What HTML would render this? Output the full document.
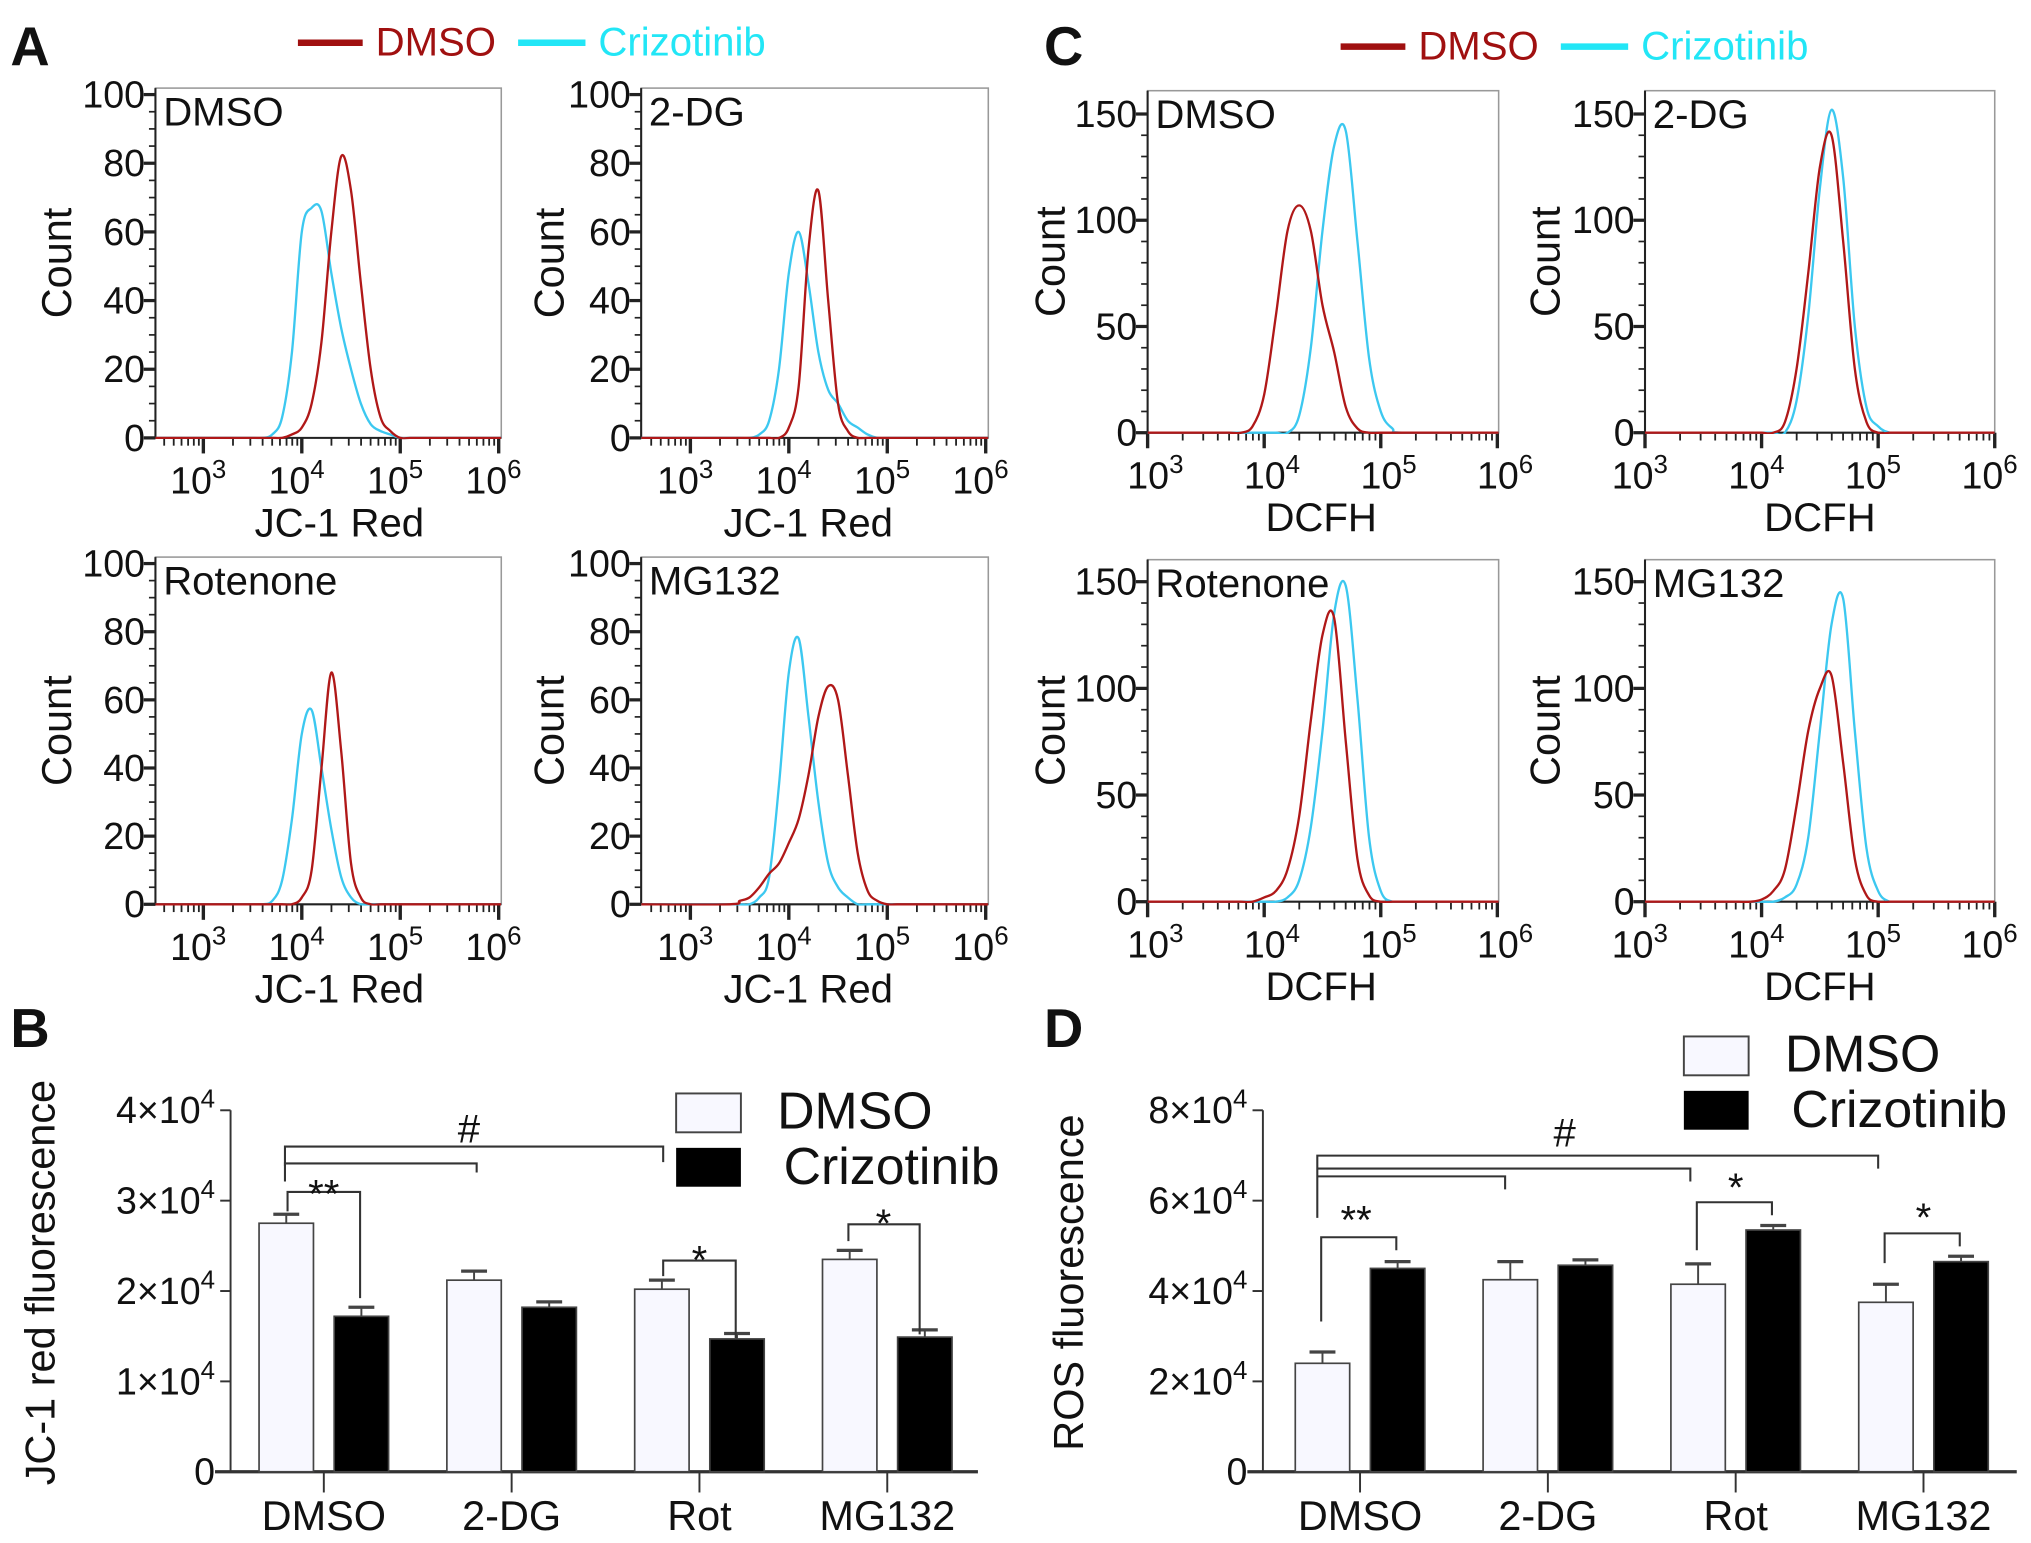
<!DOCTYPE html>
<html><head><meta charset="utf-8"><style>
html,body{margin:0;padding:0;background:#fff;}
svg{display:block;font-family:"Liberation Sans",Arial,sans-serif;}
</style></head><body>
<svg id="fig" width="2031" height="1543" viewBox="0 0 1568 1191" preserveAspectRatio="none" xmlns="http://www.w3.org/2000/svg"></svg>
<script>
// ---------- histogram data (shared log10 grid) ----------
const logGrid = [3.4,3.5,3.6,3.7,3.8,3.9,4.0,4.1,4.2,4.3,4.4,4.5,4.6,4.7,4.8,4.9,5.0,5.1,5.2];
const A_DMSO_red = [0,0,0,0,0,1,3,10,28,60,82,72,45,20,6,2,0,0,0];
const A_DMSO_cy  = [0,0,0,1,6,25,60,67,66,48,32,20,10,4,2,1,0,0,0];
const A_2DG_red  = [0,0,0,0,0,0,3,15,55,72,40,10,2,0,0,0,0,0,0];
const A_2DG_cy   = [0,0,0,1,5,20,48,60,45,25,14,10,5,3,1,0,0,0,0];
const A_Rot_red  = [0,0,0,0,0,0,2,10,40,68,45,12,2,0,0,0,0,0,0];
const A_Rot_cy   = [0,0,0,1,7,25,50,57,40,22,8,2,0,0,0,0,0,0,0];
const A_MG_red   = [0,1,2,5,9,12,18,25,38,55,64,60,38,15,4,1,0,0,0];
const A_MG_cy    = [0,0,0,2,8,35,68,78,55,30,12,5,2,0,0,0,0,0,0];
const C_DMSO_red = [0,0,0,0,0,3,18,55,95,107,95,60,38,12,2,0,0,0,0];
const C_DMSO_cy  = [0,0,0,0,0,0,0,0,0,8,40,95,135,142,90,35,10,2,0];
const C_2DG_red  = [0,0,0,0,0,0,0,0,5,30,75,125,140,90,30,5,0,0,0];
const C_2DG_cy   = [0,0,0,0,0,0,0,0,0,15,55,115,152,120,50,12,3,0,0];
const C_Rot_red  = [0,0,0,0,0,0,2,5,15,40,85,125,133,75,20,3,0,0,0];
const C_Rot_cy   = [0,0,0,0,0,0,0,0,2,10,35,80,135,148,95,30,5,0,0];
const C_MG_red   = [0,0,0,0,0,0,1,5,15,45,80,100,106,65,20,3,0,0,0];
const C_MG_cy    = [0,0,0,0,0,0,0,0,2,8,30,80,130,142,80,25,5,0,0];
const A_yTicks = [0,20,40,60,80,100];
const C_yTicks = [0,50,100,150];
const xDecades = [3,4,5,6];

// ---------- bar data ----------
const barGroups = ["DMSO","2-DG","Rot","MG132"];
const B_dmso = [2.75,2.12,2.02,2.35];
const B_dmsoErr = [0.1,0.1,0.1,0.1];
const B_criz = [1.72,1.82,1.47,1.49];
const B_crizErr = [0.1,0.06,0.06,0.08];
const B_yTicks = [0,1,2,3,4];
const D_dmso = [2.4,4.25,4.15,3.75];
const D_dmsoErr = [0.25,0.4,0.45,0.4];
const D_criz = [4.5,4.57,5.35,4.65];
const D_crizErr = [0.15,0.12,0.1,0.12];
const D_yTicks = [0,2,4,6,8];

const NS="http://www.w3.org/2000/svg";
const svg=document.getElementById('fig');
function el(tag,attrs,parent,text){const e=document.createElementNS(NS,tag);for(const k in attrs)e.setAttribute(k,attrs[k]);if(text!==undefined)e.textContent=text;(parent||svg).appendChild(e);return e;}
const RED="#b01818", CYAN="#3cc8f0";

function smoothPath(pts){
  let d=`M${pts[0][0]},${pts[0][1]}`;
  for(let i=0;i<pts.length-1;i++){
    const p0=pts[Math.max(0,i-1)],p1=pts[i],p2=pts[i+1],p3=pts[Math.min(pts.length-1,i+2)];
    const c1x=p1[0]+(p2[0]-p0[0])/6,c1y=p1[1]+(p2[1]-p0[1])/6;
    const c2x=p2[0]-(p3[0]-p1[0])/6,c2y=p2[1]-(p3[1]-p1[1])/6;
    d+=` C${c1x},${c1y} ${c2x},${c2y} ${p2[0]},${p2[1]}`;
  }
  return d;
}

let clipId=0;
function histPanel(c){
  const g=el('g',{});
  
  
  const xS=l=>c.d3+(l-3)*c.dec;
  const yS=v=>c.y0-(v/c.ymax)*(c.y0-c.ytop);
  const box=el('rect',{x:c.bx0,y:c.btop,width:c.bx1-c.bx0,height:c.y0-c.btop,fill:'none',stroke:'#999','stroke-width':1.2},g);
  
  
  el('line',{x1:c.bx0,y1:c.btop,x2:c.bx0,y2:c.y0,stroke:'#222','stroke-width':1.6},g);
  const minorStep=c.minor;
  for(let v=0;v<=c.ymax+0.01;v+=minorStep){
    const y=yS(v);const major=c.yTicks.includes(v);
    el('line',{x1:c.bx0-(major?9:5),y1:y,x2:c.bx0,y2:y,stroke:'#222','stroke-width':major?2.5:1.3},g);
  }
  c.yTicks.forEach(v=>{
    const t=el('text',{x:c.bx0-8,y:yS(v)+10,'font-size':29,'text-anchor':'end',fill:'#111'},g,String(v));
    
    
  });
  el('line',{x1:c.bx0,y1:c.y0,x2:c.bx1,y2:c.y0,stroke:'#222','stroke-width':1.6},g);
  for(let dcd=2;dcd<=6;dcd++){
    for(let m=1;m<=9;m++){
      const l=dcd+Math.log10(m);const x=xS(l);
      if(x<c.bx0-0.5||x>c.bx1+0.5)continue;
      const major=m===1;
      el('line',{x1:x,y1:c.y0,x2:x,y2:c.y0+(major?12:6),stroke:'#222','stroke-width':major?2.6:1.4},g);
    }
  }
  xDecades.forEach(dd=>{
    const x=xS(dd);
    const t=el('text',{x:x+c.lblOff,y:c.y0+43,'font-size':29,'text-anchor':'middle',fill:'#111'},g);
    
    
    el('tspan',{},t,'10');
    el('tspan',{dy:-12,'font-size':20},t,String(dd));
  });
  const xl=el('text',{x:c.xlx,y:c.y0+76,'font-size':31,'text-anchor':'middle',fill:'#111'},g,c.xlabel);
  
  
  const yl=el('text',{x:0,y:0,'font-size':32,'text-anchor':'middle',fill:'#111',transform:`translate(${c.ylx},${(c.btop+c.y0)/2}) rotate(-90)`},g,'Count');
  
  
  const lb=el('text',{x:c.bx0+6,y:c.btop+29,'font-size':31,fill:'#111'},g,c.label);
  
  
  const id='clip'+(clipId++);
  const cp=el('clipPath',{id:id},g);
  el('rect',{x:c.bx0,y:c.btop,width:c.bx1-c.bx0,height:c.y0-c.btop+1},cp);
  [[c.cy,CYAN,'crizotinib-histogram'],[c.red,RED,'dmso-histogram']].forEach(([arr,col,nm])=>{
    const pts=[[c.bx0,c.y0]];
    logGrid.forEach((l,i)=>pts.push([xS(l),yS(arr[i])]));
    pts.push([c.bx1,c.y0]);
    const p=el('path',{d:smoothPath(pts),fill:'none',stroke:col,'stroke-width':1.8,'clip-path':`url(#${id})`},g);
    
    
  });
}

const AL={bx0:120,bx1:387,d3:157,dec:76,ymax:100,minor:5,yTicks:A_yTicks,xlabel:'JC-1 Red',xlx:262,ylx:55,lblOff:-4};
const AR={bx0:495,bx1:763,d3:533,dec:76,ymax:100,minor:5,yTicks:A_yTicks,xlabel:'JC-1 Red',xlx:624,ylx:435,lblOff:-4};
histPanel(Object.assign({},AL,{name:'hist-a-dmso',btop:68,ytop:73,y0:338,label:'DMSO',red:A_DMSO_red,cy:A_DMSO_cy}));
histPanel(Object.assign({},AR,{name:'hist-a-2dg',btop:68,ytop:73,y0:338,label:'2-DG',red:A_2DG_red,cy:A_2DG_cy}));
histPanel(Object.assign({},AL,{name:'hist-a-rotenone',btop:430,ytop:435,y0:698,label:'Rotenone',red:A_Rot_red,cy:A_Rot_cy}));
histPanel(Object.assign({},AR,{name:'hist-a-mg132',btop:430,ytop:435,y0:698,label:'MG132',red:A_MG_red,cy:A_MG_cy}));
const CL={bx0:886,bx1:1157,d3:886,dec:90,ymax:150,minor:10,yTicks:C_yTicks,xlabel:'DCFH',xlx:1020,ylx:822,lblOff:6};
const CR={bx0:1270,bx1:1540,d3:1270,dec:90,ymax:150,minor:10,yTicks:C_yTicks,xlabel:'DCFH',xlx:1405,ylx:1204,lblOff:-4};
histPanel(Object.assign({},CL,{name:'hist-c-dmso',btop:70,ytop:88,y0:334,label:'DMSO',red:C_DMSO_red,cy:C_DMSO_cy}));
histPanel(Object.assign({},CR,{name:'hist-c-2dg',btop:70,ytop:88,y0:334,label:'2-DG',red:C_2DG_red,cy:C_2DG_cy}));
histPanel(Object.assign({},CL,{name:'hist-c-rotenone',btop:432,ytop:449,y0:696,label:'Rotenone',red:C_Rot_red,cy:C_Rot_cy}));
histPanel(Object.assign({},CR,{name:'hist-c-mg132',btop:432,ytop:449,y0:696,label:'MG132',red:C_MG_red,cy:C_MG_cy}));

function topLegend(x,y,name){
  const g=el('g',{});
  
  
  el('line',{x1:x,y1:y,x2:x+50,y2:y,stroke:'#a01010','stroke-width':5},g);
  el('text',{x:x+60,y:y+10,'font-size':31,fill:'#a01010'},g,'DMSO');
  el('line',{x1:x+170,y1:y,x2:x+222,y2:y,stroke:'#22e6f6','stroke-width':5},g);
  el('text',{x:x+232,y:y+10,'font-size':31,fill:'#22e6f6'},g,'Crizotinib');
}
topLegend(230,33,'legend-a');
topLegend(1035,36,'legend-c');

[['A',8,50],['C',806,50],['B',8,808],['D',806,808]].forEach(([t,x,y])=>{
  const e=el('text',{x:x,y:y,'font-size':42,'font-weight':'bold',fill:'#111'},svg,t);
  
  
});

function barChart(c){
  const g=el('g',{});
  
  
  const yS=v=>c.y0-(v/c.ymax)*(c.y0-c.ytop);
  el('line',{x1:c.ax,y1:c.ytop,x2:c.ax,y2:c.y0,stroke:'#333','stroke-width':1.5},g);
  el('line',{x1:c.ax-12,y1:c.y0,x2:c.xend,y2:c.y0,stroke:'#333','stroke-width':2.5},g);
  c.yTicks.forEach(v=>{
    const y=yS(v);
    el('line',{x1:c.ax-8,y1:y,x2:c.ax,y2:y,stroke:'#333','stroke-width':1.5},g);
    const t=el('text',{x:c.ax-12,y:y+10,'font-size':29,'text-anchor':'end',fill:'#111'},g);
    
    
    if(v===0){t.textContent='0';}
    else{el('tspan',{},t,v+'×10');el('tspan',{dy:-12,'font-size':20},t,'4');}
  });
  const yl=el('text',{x:0,y:0,'font-size':32,'text-anchor':'middle',fill:'#111',transform:`translate(${c.ylx},${c.yly}) rotate(-90)`},g,c.ylabel);
  
  
  barGroups.forEach((grp,i)=>{
    const cx=c.g0+i*c.gs;
    el('line',{x1:cx,y1:c.y0,x2:cx,y2:c.y0+16,stroke:'#333','stroke-width':1.5},g);
    const t=el('text',{x:cx,y:c.y0+45,'font-size':32,'text-anchor':'middle',fill:'#111'},g,grp);
    
    
    [[c.dmso[i],c.dmsoErr[i],cx-50,'#f8f8ff','dmso-bar'],[c.criz[i],c.crizErr[i],cx+8,'#000','crizotinib-bar']].forEach(([v,e,x,f,nm])=>{
      const r=el('rect',{x:x,y:yS(v),width:42,height:c.y0-yS(v),fill:f,stroke:'#444','stroke-width':1.3},g);
      
      
      const mx=x+21;
      el('line',{x1:mx,y1:yS(v),x2:mx,y2:yS(v+e),stroke:'#444','stroke-width':1.5},g);
      el('line',{x1:mx-10,y1:yS(v+e),x2:mx+10,y2:yS(v+e),stroke:'#444','stroke-width':2.5},g);
    });
  });
  const lg=el('g',{},g);
  
  
  el('rect',{x:c.lx,y:c.ly,width:50,height:30,fill:'#f8f8ff',stroke:'#444','stroke-width':1.5},lg);
  el('text',{x:c.lx+78,y:c.ly+27,'font-size':40,fill:'#111'},lg,'DMSO');
  el('rect',{x:c.lx,y:c.ly+42,width:50,height:30,fill:'#000'},lg);
  el('text',{x:c.lx+83,y:c.ly+70,'font-size':40,fill:'#111'},lg,'Crizotinib');
  const sg=el('g',{},g);
  
  
  c.sig.forEach(s=>{
    el('path',{d:s.d,fill:'none',stroke:'#333','stroke-width':1.6},sg);
    if(s.t)el('text',{x:s.tx,y:s.ty,'font-size':31,'text-anchor':'middle',fill:'#111'},sg,s.t);
  });
}
barChart({name:'bar-chart-b',ax:178,xend:755,y0:1136,ytop:857,ymax:4,yTicks:B_yTicks,ylabel:'JC-1 red fluorescence',ylx:42,yly:990,
  g0:250,gs:145,dmso:B_dmso,dmsoErr:B_dmsoErr,criz:B_criz,crizErr:B_crizErr,lx:522,ly:844,
  sig:[{d:'M220,900 V885 H512 V897',t:'#',tx:362,ty:882},{d:'M220,912 V898 H368 V905'},
       {d:'M222,935 V920 H278 V1002',t:'**',tx:250,ty:932},
       {d:'M512,985 V973 H568 V1033',t:'*',tx:540,ty:983},
       {d:'M655,958 V945 H710 V1030',t:'*',tx:682,ty:955}]});
barChart({name:'bar-chart-d',ax:975,xend:1557,y0:1136,ytop:857,ymax:8,yTicks:D_yTicks,ylabel:'ROS fluorescence',ylx:836,yly:990,
  g0:1050,gs:145,dmso:D_dmso,dmsoErr:D_dmsoErr,criz:D_criz,crizErr:D_crizErr,lx:1300,ly:800,
  sig:[{d:'M1017,940 V892 H1450 V902',t:'#',tx:1208,ty:885},{d:'M1017,902 H1305 V912'},{d:'M1017,908 H1162 V918'},
       {d:'M1020,1020 V955 H1078 V965',t:'**',tx:1047,ty:952},
       {d:'M1310,965 V928 H1368 V938',t:'*',tx:1340,ty:927},
       {d:'M1455,975 V952 H1513 V962',t:'*',tx:1485,ty:950}]});
</script>
</body></html>
